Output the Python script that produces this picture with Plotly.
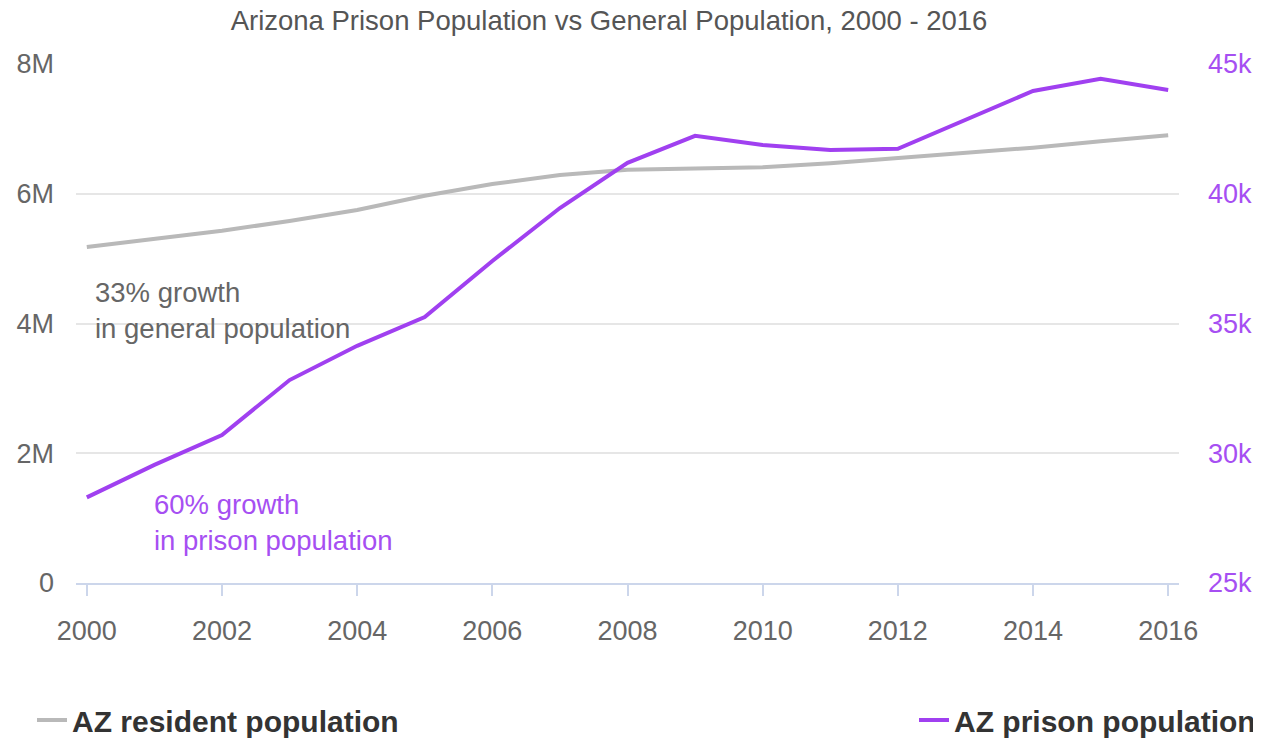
import plotly.graph_objects as go

years = list(range(2000, 2017))
resident_pop = [5.18e6, 5.30e6, 5.43e6, 5.58e6, 5.75e6, 5.97e6, 6.15e6, 6.29e6, 6.37e6,
                6.39e6, 6.41e6, 6.47e6, 6.55e6, 6.62e6, 6.71e6, 6.81e6, 6.90e6]
prison_pop = [28300, 29550, 30700, 32820, 34140, 35250, 37410, 39450, 41190,
              42230, 41880, 41690, 41730, 42840, 43960, 44430, 44000]

left_tickvals = [0, 2e6, 4e6, 6e6, 8e6]
left_ticktext = ["0", "2M", "4M", "6M", "8M"]
right_tickvals = [25000, 30000, 35000, 40000, 45000]
right_ticktext = ["25k", "30k", "35k", "40k", "45k"]
x_tickvals = list(range(2000, 2017, 2))

GRAY = "#b9b9b9"
PURPLE = "#a040f0"
PURPLE_TXT = "#a64ff2"
FONT = "Liberation Sans, Arial, sans-serif"

# page body has an 8px margin; figure sized so it reaches the window's right/bottom edge
W, H = 1253, 731

fig = go.Figure()
fig.add_trace(go.Scatter(x=years, y=resident_pop, mode="lines", name="AZ resident population",
                         line=dict(color=GRAY, width=4), legend="legend", showlegend=True))
fig.add_trace(go.Scatter(x=years, y=prison_pop, mode="lines", name="AZ prison population",
                         line=dict(color=PURPLE, width=4), yaxis="y2", legend="legend2",
                         showlegend=True))

fig.update_layout(
    width=W, height=H,
    showlegend=True,
    margin=dict(l=68, r=82, t=56, b=156, autoexpand=False),
    paper_bgcolor="white", plot_bgcolor="white",
    font=dict(family=FONT, size=27, color="#666666"),
    title=dict(text="Arizona Prison Population vs General Population, 2000 - 2016",
               x=601 / W, xref="container", xanchor="center",
               y=1 - 12 / H, yref="container", yanchor="middle",
               font=dict(size=27.5, color="#555555", family=FONT)),
    xaxis=dict(range=[1999.84, 2016.16], tickvals=x_tickvals, showgrid=False,
               showline=True, linecolor="#ccd6eb", linewidth=2,
               ticks="outside", ticklen=11, tickcolor="#ccd6eb", tickwidth=2,
               ticklabelstandoff=12, zeroline=False, automargin=False,
               tickfont=dict(size=27, color="#666666")),
    yaxis=dict(range=[0, 8e6], tickvals=left_tickvals, ticktext=left_ticktext,
               showgrid=True, gridcolor="#e6e6e6", gridwidth=2, zeroline=False,
               ticks="", ticklabelstandoff=21, automargin=False,
               tickfont=dict(size=27, color="#666666")),
    yaxis2=dict(range=[25000, 45000], tickvals=right_tickvals, ticktext=right_ticktext,
                overlaying="y", side="right", showgrid=False, zeroline=False,
                ticks="", ticklabelstandoff=28, automargin=False,
                tickfont=dict(size=27, color=PURPLE_TXT)),
    legend=dict(orientation="h", xref="container", yref="container",
                x=24 / W, xanchor="left", y=1 - 712 / H, yanchor="middle",
                font=dict(size=30, color="#333333", family=FONT, weight="bold"),
                bgcolor="rgba(0,0,0,0)", visible=True),
    legend2=dict(orientation="h", xref="container", yref="container",
                 x=1.0, xanchor="right", y=1 - 712 / H, yanchor="middle",
                 font=dict(size=30, color="#333333", family=FONT, weight="bold"),
                 bgcolor="rgba(0,0,0,0)", visible=True),
    annotations=[
        dict(text="33% growth<br>in general population", xref="paper", yref="paper",
             x=0.0154, y=0.525, xanchor="left", yanchor="middle", align="left",
             showarrow=False, font=dict(size=27.5, color="#666666", family=FONT)),
        dict(text="60% growth<br>in prison population", xref="paper", yref="paper",
             x=0.0689, y=0.1166, xanchor="left", yanchor="middle", align="left",
             showarrow=False, font=dict(size=27.5, color=PURPLE_TXT, family=FONT)),
    ],
)

fig.write_html("out.html")
